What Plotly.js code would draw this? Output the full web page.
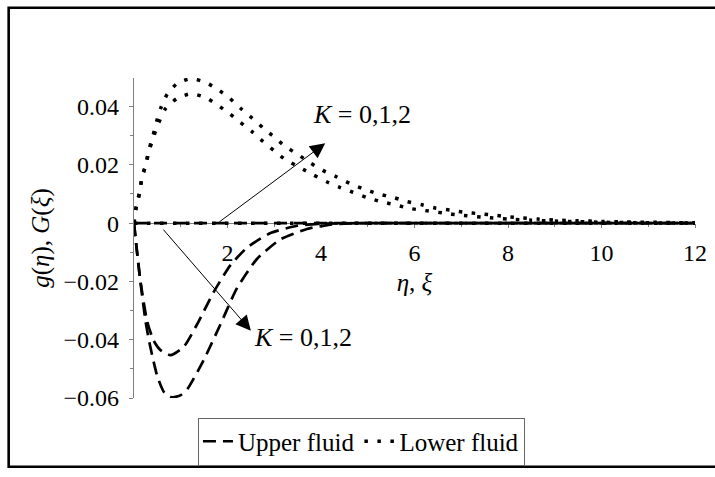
<!DOCTYPE html>
<html>
<head>
<meta charset="utf-8">
<script src="https://cdn.plot.ly/plotly-3.0.1.min.js"></script>
<style>
  html, body { margin: 0; padding: 0; background: #fff; }
  #chart { width: 715px; height: 477px; }
</style>
</head>
<body>
<div id="chart"></div>
<script>
// Upper fluid velocity g(eta) for K = 0, 1, 2
const etaK0 = [0, 12];
const gK0 = [0, 0];
const etaK1 = [0, 0.07, 0.14, 0.28, 0.42, 0.57, 0.78, 1.06, 1.35, 1.71, 2.06, 2.42, 2.92, 3.49, 4.0, 5, 6, 8, 10, 12];
const gK1 = [0, -0.0105, -0.0201, -0.0336, -0.0403, -0.0436, -0.0453, -0.0425, -0.0347, -0.0235, -0.0145, -0.0084, -0.0034, -0.0009, -0.0002, 0, 0, 0, 0, 0];
const etaK2 = [0, 0.07, 0.14, 0.25, 0.35, 0.50, 0.65, 0.82, 1.0, 1.14, 1.49, 1.85, 2.20, 2.63, 3.13, 3.70, 4.20, 4.6, 5, 6, 8, 10, 12];
const gK2 = [0, -0.0108, -0.0205, -0.034, -0.0425, -0.0526, -0.0582, -0.0598, -0.0590, -0.0570, -0.0470, -0.0347, -0.0224, -0.0123, -0.0056, -0.0020, -0.0005, -0.0001, 0, 0, 0, 0, 0];

// Lower fluid velocity G(xi) for K = 0, 1, 2
const xiK0 = [0, 12];
const GK0 = [0, 0];
const xiK1 = [0, 0.05, 0.12, 0.17, 0.25, 0.32, 0.41, 0.5, 0.67, 0.92, 1.22, 1.53, 1.79, 2.05, 2.28, 2.53, 2.76, 3.0, 3.24, 3.56, 3.83, 4.12, 4.40, 4.68, 5.0, 5.30, 5.61, 5.91, 6.23, 6.6, 7.0, 7.5, 8.0, 8.5, 9.0, 9.5, 10, 11, 12];
const GK1 = [0, 0.0058, 0.0105, 0.0155, 0.0198, 0.0246, 0.0292, 0.0333, 0.0392, 0.0428, 0.0444, 0.0431, 0.0405, 0.0375, 0.0345, 0.0313, 0.0280, 0.0248, 0.0218, 0.0190, 0.0166, 0.0142, 0.0123, 0.0106, 0.0087, 0.0073, 0.0062, 0.0050, 0.0043, 0.0035, 0.0027, 0.0020, 0.0014, 0.0010, 0.0007, 0.0005, 0.0003, 0.0001, 0];
const xiK2 = [0, 0.05, 0.12, 0.17, 0.25, 0.32, 0.41, 0.48, 0.57, 0.71, 0.92, 1.22, 1.53, 1.79, 2.05, 2.28, 2.53, 2.76, 3.0, 3.24, 3.51, 3.77, 4.04, 4.33, 4.61, 4.91, 5.21, 5.55, 5.84, 6.16, 6.44, 6.76, 7.08, 7.40, 7.72, 8.05, 8.32, 8.64, 8.97, 9.5, 10, 10.5, 11, 11.5, 12];
const GK2 = [0, 0.0058, 0.0106, 0.0157, 0.0201, 0.0252, 0.0302, 0.0347, 0.0394, 0.0442, 0.0479, 0.0496, 0.0483, 0.0459, 0.0428, 0.0394, 0.0360, 0.0327, 0.0295, 0.0263, 0.0235, 0.0207, 0.0181, 0.0159, 0.0137, 0.0117, 0.0101, 0.0088, 0.0074, 0.0063, 0.0052, 0.0045, 0.0037, 0.0032, 0.0027, 0.0021, 0.0018, 0.0014, 0.0011, 0.0008, 0.0006, 0.0004, 0.0003, 0.0002, 0.0001];

// Axis ticks
const xTickVals = [2, 4, 6, 8, 10, 12];
const xTickText = ["2", "4", "6", "8", "10", "12"];
const yTickVals = [-0.06, -0.04, -0.02, 0, 0.02, 0.04];
const yTickText = ["\u22120.06", "\u22120.04", "\u22120.02", "0", "0.02", "0.04"];

const seriesNames = ["Upper fluid", "Lower fluid"];
const kLabel = "<i>K</i> = 0,1,2";

const FONT = "'Liberation Serif', 'Times New Roman', serif";
const AXIS_GRAY = "#808080";

const upperLine = { color: "black", width: 2.7, dash: "13px,7px", shape: "spline", smoothing: 0.6 };
const lowerLine = { color: "black", width: 3.5, dash: "3.5px,9.5px", shape: "spline", smoothing: 0.6 };

const traces = [
  { x: etaK1, y: gK1, mode: "lines", name: seriesNames[0], legendgroup: "u", showlegend: true, line: upperLine },
  { x: etaK2, y: gK2, mode: "lines", name: seriesNames[0], legendgroup: "u", showlegend: false, line: upperLine },
  { x: etaK0, y: gK0, mode: "lines", name: seriesNames[0], legendgroup: "u", showlegend: false, line: upperLine },
  { x: xiK1, y: GK1, mode: "lines", name: seriesNames[1], legendgroup: "l", showlegend: true, line: lowerLine },
  { x: xiK2, y: GK2, mode: "lines", name: seriesNames[1], legendgroup: "l", showlegend: false, line: lowerLine },
  { x: xiK0, y: GK0, mode: "lines", name: seriesNames[1], legendgroup: "l", showlegend: false, line: lowerLine }
];

const yMin = -0.06, yMax = 0.0498;
const zeroFrac = (0 - yMin) / (yMax - yMin);

const layout = {
  width: 715,
  height: 477,
  margin: { l: 134, r: 20, t: 78, b: 72 },
  paper_bgcolor: "white",
  plot_bgcolor: "white",
  font: { family: FONT, color: "black", size: 24 },
  showlegend: true,
  xaxis: {
    range: [0, 12],
    anchor: "free",
    position: zeroFrac,
    layer: "below traces",
    showgrid: false,
    zeroline: false,
    showline: true,
    linecolor: AXIS_GRAY,
    linewidth: 1.2,
    ticks: "outside",
    ticklen: 4,
    tickcolor: AXIS_GRAY,
    tickvals: xTickVals,
    ticktext: xTickText,
    ticklabelstandoff: 4,
    tickfont: { family: FONT, size: 24, color: "black" },
    minor: { dtick: 1, ticks: "outside", ticklen: 3, tickcolor: AXIS_GRAY, showgrid: false },
    title: { text: "<i>η</i>, <i>ξ</i>", font: { family: FONT, size: 25, color: "black" }, standoff: 8 },
    fixedrange: true
  },
  yaxis: {
    range: [yMin, yMax],
    layer: "below traces",
    showgrid: false,
    zeroline: false,
    showline: true,
    linecolor: AXIS_GRAY,
    linewidth: 1.2,
    ticks: "outside",
    ticklen: 4,
    tickcolor: AXIS_GRAY,
    tickvals: yTickVals,
    ticktext: yTickText,
    ticklabelstandoff: 5,
    tickfont: { family: FONT, size: 24, color: "black" },
    minor: { dtick: 0.01, ticks: "outside", ticklen: 3, tickcolor: AXIS_GRAY, showgrid: false },
    title: { text: "<i>g</i>(<i>η</i>), <i>G</i>(<i>ξ</i>)", font: { family: FONT, size: 25, color: "black" }, standoff: 6 },
    fixedrange: true
  },
  legend: {
    orientation: "h",
    x: 0.114,
    xanchor: "left",
    y: -0.061,
    yanchor: "top",
    bgcolor: "white",
    bordercolor: "#666",
    borderwidth: 1,
    font: { family: FONT, size: 25, color: "black" },
    itemwidth: 30,
    tracegroupgap: 0
  },
  annotations: [
    { x: 4.09, y: 0.0274, ax: 1.79, ay: 0, xref: "x", yref: "y", axref: "x", ayref: "y",
      text: "", showarrow: true, arrowhead: 2, arrowsize: 3, arrowwidth: 1, arrowcolor: "black" },
    { x: 2.50, y: -0.0369, ax: 0.60, ay: -0.0017, xref: "x", yref: "y", axref: "x", ayref: "y",
      text: "", showarrow: true, arrowhead: 2, arrowsize: 3, arrowwidth: 1, arrowcolor: "black" },
    { x: 4.88, y: 0.0372, xref: "x", yref: "y", text: kLabel, showarrow: false,
      font: { family: FONT, size: 26, color: "black" } },
    { x: 3.62, y: -0.0394, xref: "x", yref: "y", text: kLabel, showarrow: false,
      font: { family: FONT, size: 26, color: "black" } }
  ],
  shapes: [
    { type: "rect", xref: "paper", yref: "paper", x0: -0.2234, x1: 1.06, y0: -0.215, y1: 1.2196,
      line: { color: "black", width: 2.6 }, fillcolor: "rgba(0,0,0,0)", layer: "above" }
  ]
};

Plotly.newPlot("chart", traces, layout, { staticPlot: true, displayModeBar: false });
</script>
</body>
</html>
